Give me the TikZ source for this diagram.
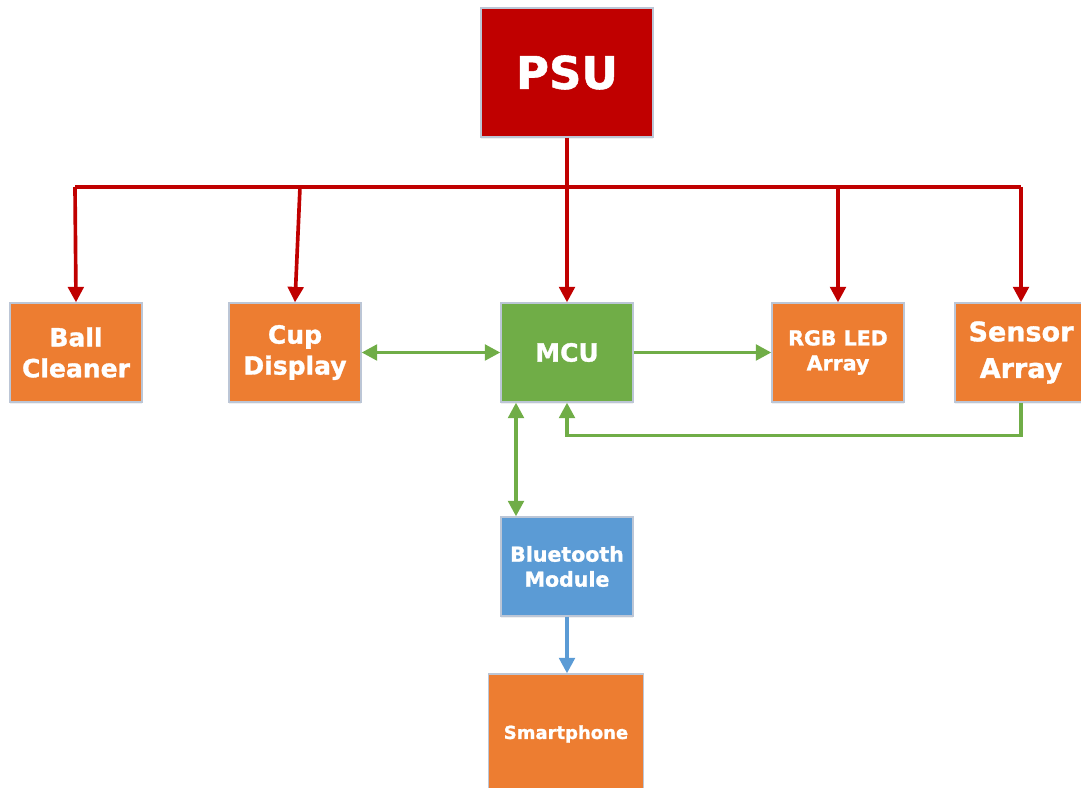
\documentclass[tikz,border=0pt]{standalone}
\usepackage{fontspec}
\setmainfont{DejaVu Sans}[BoldFeatures={FakeBold=1.2}]
\usepackage{tikz}
\usetikzlibrary{arrows.meta}
\usetikzlibrary{positioning}
\usetikzlibrary{shadows}

\definecolor{psured}{HTML}{C00000}
\definecolor{blkorange}{HTML}{ED7D31}
\definecolor{mcugreen}{HTML}{70AD47}
\definecolor{btblue}{HTML}{5B9BD5}
\definecolor{blkedge}{HTML}{BCC6D6}

\begin{document}
\begin{tikzpicture}[font=\bfseries,
  block/.style={draw=blkedge, line width=0.9pt, text=white, align=center, inner sep=0pt,
    minimum width=3.3cm, minimum height=2.475cm,
    drop shadow={opacity=0.12, shadow xshift=0pt, shadow yshift=-1.5pt}},
  unit/.style={block, fill=blkorange},
  tip/.style={-{Triangle[length=11pt,width=11pt]}},
  power/.style={draw=psured, line width=2.6pt, tip},
  signal/.style={draw=mcugreen, line width=2.6pt, tip},
  both/.style={signal, {Triangle[length=11pt,width=11pt]}-{Triangle[length=11pt,width=11pt]}}]
\useasboundingbox (0,0) rectangle (27.025,-19.7);

% supply and the main row
\node (psu) [block, fill=psured, minimum width=4.3cm, minimum height=3.225cm,
  font=\bfseries\fontsize{32}{38}\selectfont] at (14.175,-1.8125) {PSU};
\node (ball) [unit, font=\bfseries\fontsize{17.8}{22}\selectfont] at (1.9,-8.8125) {Ball\\Cleaner};
\node (cup) [unit, font=\bfseries\fontsize{17.8}{22}\selectfont] at (7.375,-8.8125) {Cup\\Display};
\node (mcu) [block, fill=mcugreen, font=\bfseries\fontsize{17.8}{22}\selectfont] at (14.175,-8.8125) {MCU};
\node (rgb) [unit, font=\bfseries\fontsize{14.6}{17.8}\selectfont] at (20.95,-8.8125) {RGB LED\\Array};
\node (sensor) [unit, font=\bfseries\fontsize{19.2}{26}\selectfont] at (25.525,-8.8125) {Sensor\\Array};

% wireless link
\node (bt) [block, fill=btblue, font=\bfseries\fontsize{14.6}{17.8}\selectfont] at (14.175,-14.1625) {Bluetooth\\Module};
\node (phone) [unit, minimum width=3.875cm, minimum height=3cm,
  font=\bfseries\fontsize{12.8}{15}\selectfont] at (14.15,-18.35) {Smartphone};

% power bus
\coordinate (busL) at (1.875,-4.675);
\coordinate (busR) at (25.525,-4.675);
\coordinate (busC) at (7.5,-4.675);
\draw[psured, line width=2.6pt] (busL) -- (busR);
\draw[psured, line width=2.6pt] (psu.south) -- (psu.south |- busL);
\draw[power] (busL) -- (ball.north);
\draw[power] (busC) -- (cup.north);
\draw[power] (psu.south |- busL) -- (mcu.north);
\draw[power] (rgb.north |- busL) -- (rgb.north);
\draw[power] (busR) -- (sensor.north);

% data lines
\draw[both] (cup.east) -- (mcu.west);
\draw[signal] (mcu.east) -- (rgb.west);
\draw[signal] (sensor.south) -- ++(0,-0.825) -| (mcu.south);
\draw[both] ([xshift=-1.275cm]mcu.south) -- ([xshift=-1.275cm]bt.north);
\draw[btblue, line width=2.6pt, tip] (bt.south) -- (bt.south |- phone.north);
\end{tikzpicture}
\end{document}
